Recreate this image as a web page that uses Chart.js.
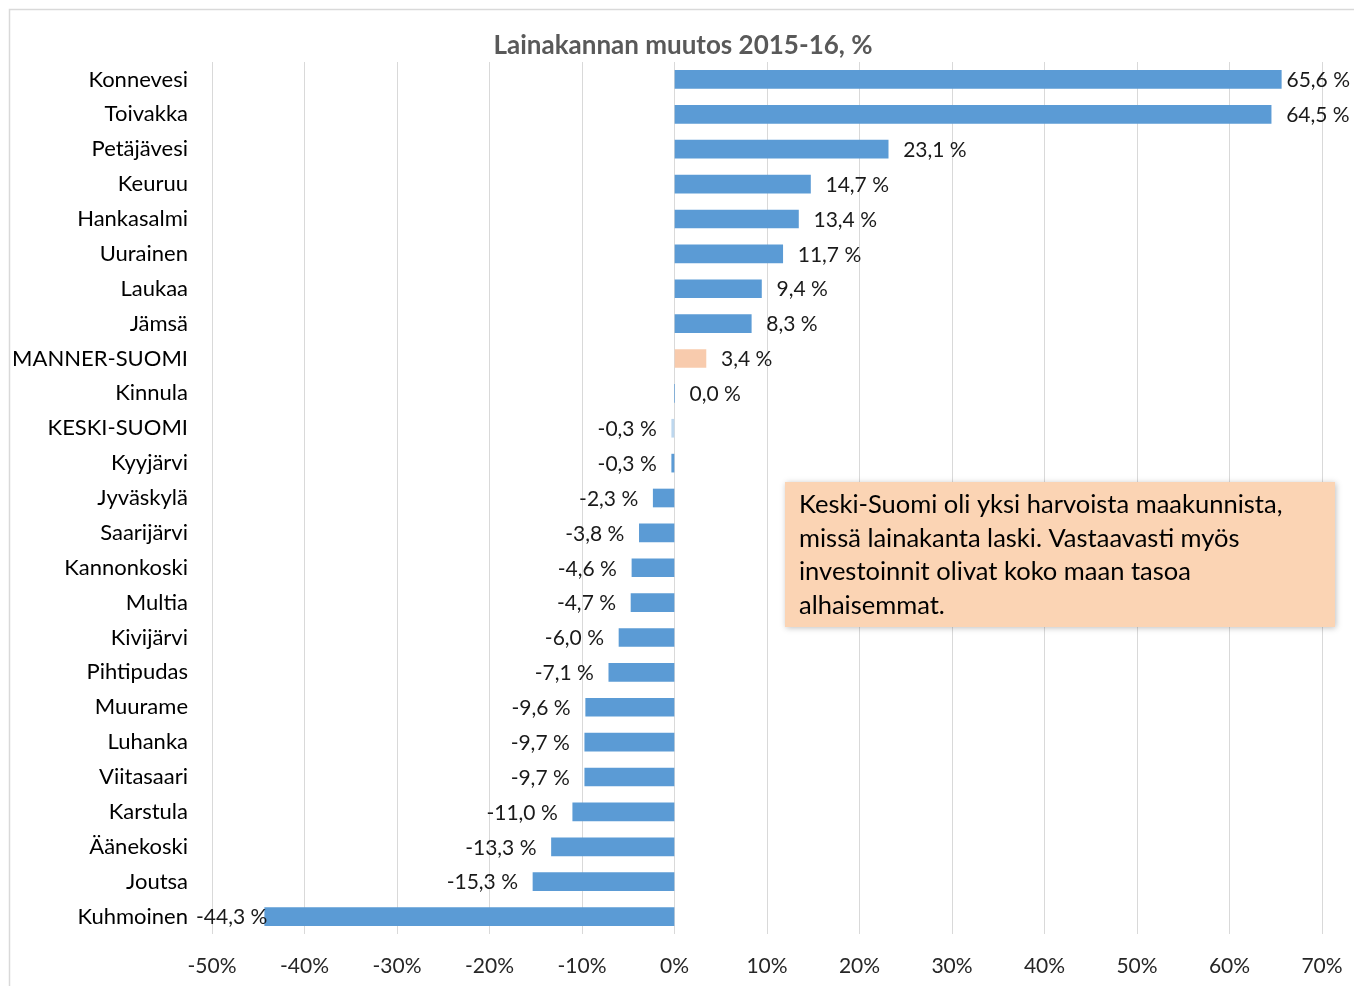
<!DOCTYPE html>
<html>
<head>
<meta charset="utf-8">
<script src="https://cdn.jsdelivr.net/npm/chart.js@4"></script>
<style>
  html, body { margin: 0; padding: 0; background: #fff; }
  canvas { display: block; }
</style>
</head>
<body>
<canvas id="chart" width="1354" height="986"></canvas>
<script>
// Chart data.
const kunnat = ["Konnevesi", "Toivakka", "Petäjävesi", "Keuruu", "Hankasalmi", "Uurainen", "Laukaa", "Jämsä",
  "MANNER-SUOMI", "Kinnula", "KESKI-SUOMI", "Kyyjärvi", "Jyväskylä", "Saarijärvi", "Kannonkoski", "Multia",
  "Kivijärvi", "Pihtipudas", "Muurame", "Luhanka", "Viitasaari", "Karstula", "Äänekoski", "Joutsa", "Kuhmoinen"];
const muutos = [65.6, 64.5, 23.1, 14.7, 13.4, 11.7, 9.4, 8.3,
  3.4, 0.0, -0.3, -0.3, -2.3, -3.8, -4.6, -4.7,
  -6.0, -7.1, -9.6, -9.7, -9.7, -11.0, -13.3, -15.3, -44.3];
const xTicks = [-50, -40, -30, -20, -10, 0, 10, 20, 30, 40, 50, 60, 70];
const otsikko = "Lainakannan muutos 2015-16, %";
const huomio = ["Keski-Suomi oli yksi harvoista maakunnista,",
  "missä lainakanta laski. Vastaavasti myös",
  "investoinnit olivat koko maan tasoa",
  "alhaisemmat."];

const FONT = "Lato, 'Open Sans', sans-serif";

let colors = kunnat.map(k => {
  if (k == "MANNER-SUOMI") return '#F8CBAD';
  if (k == "KESKI-SUOMI") return '#BDD7EE';
  return '#5B9BD5';
});

function fmt(v) {
  return v.toFixed(1).replace('.', ',') + ' %';
}

// frame, title, note box and value labels
const extras = {
  id: 'extras',
  beforeDraw(chart) {
    let ctx = chart.ctx;
    ctx.save();
    ctx.fillStyle = '#fff';
    ctx.fillRect(0, 0, chart.width, chart.height);
    ctx.strokeStyle = '#D9D9D9';
    ctx.lineWidth = 1.5;
    ctx.strokeRect(9.5, 9.5, chart.width + 10, chart.height + 10);
    ctx.restore();
  },
  afterDatasetsDraw(chart) {
    let ctx = chart.ctx;
    ctx.save();
    ctx.font = "bold 26px " + FONT;
    ctx.fillStyle = '#595959';
    ctx.textAlign = 'center';
    ctx.textBaseline = 'middle';
    ctx.fillText(otsikko, 683, 46);

    // value labels
    ctx.font = "21px " + FONT;
    ctx.fillStyle = '#1a1a1a';
    ctx.textBaseline = 'middle';
    ctx.textAlign = 'left';
    let meta = chart.getDatasetMeta(0);
    meta.data.forEach((bar, i) => {
      let v = muutos[i];
      let txt = fmt(v);
      let w = ctx.measureText(txt).width;
      let x = v >= 0 ? bar.x + 15 : bar.x - 15 - w;
      if (x < 196) x = 196;
      if (x + w > 1350) x = 1350 - w;
      ctx.fillText(txt, x, bar.y + 1);
    });

    // note box
    ctx.shadowColor = 'rgba(0,0,0,0.25)';
    ctx.shadowBlur = 6;
    ctx.shadowOffsetX = 1;
    ctx.shadowOffsetY = 1;
    ctx.fillStyle = '#FBD4B4';
    ctx.fillRect(785, 482, 550, 145);
    ctx.shadowColor = 'transparent';
    ctx.fillStyle = '#000';
    ctx.font = "25.5px " + FONT;
    huomio.forEach((line, i) => ctx.fillText(line, 799, 505 + i * 33.5));
    ctx.restore();
  }
};

new Chart(document.getElementById('chart'), {
  type: 'bar',
  data: {
    labels: kunnat,
    datasets: [{
      data: muutos,
      backgroundColor: colors,
      barThickness: 18,
      borderWidth: 0
    }]
  },
  options: {
    indexAxis: 'y',
    responsive: false,
    animation: false,
    layout: { padding: { top: 62, right: 32, bottom: 0, left: 0 } },
    plugins: {
      legend: { display: false },
      tooltip: { enabled: false },
      title: { display: false }
    },
    scales: {
      x: {
        min: -50,
        max: 70,
        afterBuildTicks: s => { s.ticks = xTicks.map(v => ({ value: v })); },
        afterFit: s => {
          s.height = 52;
          s.paddingLeft = 0;
          s.paddingRight = 0;
        },
        grid: { color: '#D9D9D9', lineWidth: 1, drawTicks: false },
        border: { display: false },
        ticks: {
          padding: 20,
          color: '#262626',
          font: { family: FONT, size: 21 },
          callback: v => v + '%'
        }
      },
      y: {
        afterFit: s => { s.width = 212; },
        grid: { display: false, drawTicks: false },
        border: { display: false },
        ticks: {
          padding: 24,
          color: '#000',
          font: { family: FONT, size: 22 },
          autoSkip: false
        }
      }
    }
  },
  plugins: [extras]
});
</script>
</body>
</html>
